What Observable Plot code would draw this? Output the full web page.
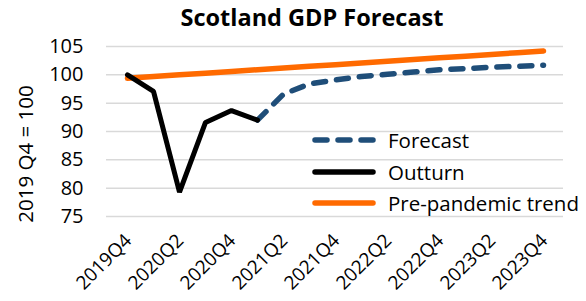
<!DOCTYPE html>
<html>
<head>
<meta charset="utf-8">
<script src="https://cdn.jsdelivr.net/npm/d3@7"></script>
<script src="https://cdn.jsdelivr.net/npm/@observablehq/plot@0.6"></script>
<style>
  html, body { margin: 0; padding: 0; background: #fff; }
  #wrap { position: relative; width: 586px; height: 301px; font-family: "Open Sans", sans-serif; }
  #title { position: absolute; left: 312px; top: 1px; transform: translateX(-50%); font-weight: bold; font-size: 23.5px; color: #000; white-space: nowrap; }
  #ylabel { position: absolute; left: 25px; top: 154px; transform: translate(-50%, -50%) rotate(-90deg); font-size: 20.5px; white-space: nowrap; color: #000; }
  #legend { position: absolute; left: 312px; top: 125px; }
  .item { position: absolute; left: 0; height: 30px; display: flex; align-items: center; white-space: nowrap; font-size: 20.5px; color: #000; }
  .item svg { margin-right: 12px; }
</style>
</head>
<body>
<div id="wrap">
  <div id="chart"></div>
  <div id="title">Scotland GDP Forecast</div>
  <div id="ylabel">2019 Q4 = 100</div>
  <div id="legend"></div>
</div>
<script>
const quarters = ["2019Q4","2020Q1","2020Q2","2020Q3","2020Q4","2021Q1","2021Q2","2021Q3","2021Q4",
  "2022Q1","2022Q2","2022Q3","2022Q4","2023Q1","2023Q2","2023Q3","2023Q4"];
const xTickLabels = ["2019Q4","2020Q2","2020Q4","2021Q2","2021Q4","2022Q2","2022Q4","2023Q2","2023Q4"];
const yTicks = [75, 80, 85, 90, 95, 100, 105];

const outturnQuarters = ["2019Q4","2020Q1","2020Q2","2020Q3","2020Q4","2021Q1"];
const outturnValues = [100.0, 97.1, 79.3, 91.6, 93.7, 92.0];

const forecastQuarters = ["2021Q1","2021Q2","2021Q3","2021Q4","2022Q1","2022Q2","2022Q3","2022Q4",
  "2023Q1","2023Q2","2023Q3","2023Q4"];
const forecastValues = [92.0, 96.6, 98.4, 99.1, 99.7, 100.1, 100.5, 100.9, 101.1, 101.35, 101.5, 101.7];

const trendValues = [99.4, 99.7, 100.0, 100.3, 100.6, 100.9, 101.2, 101.5, 101.8, 102.1, 102.4, 102.7,
  103.0, 103.3, 103.6, 103.9, 104.2];

const seriesNames = ["Forecast", "Outturn", "Pre-pandemic trend"];
const seriesColors = ["#1F4E79", "#000000", "#FF6A00"];

const outturn = outturnQuarters.map((q, i) => ({q, v: outturnValues[i]}));
const forecast = forecastQuarters.map((q, i) => ({q, v: forecastValues[i]}));
const trend = quarters.map((q, i) => ({q, v: trendValues[i]}));

const chart = Plot.plot({
  width: 586,
  height: 301,
  marginTop: 46,
  marginBottom: 85,
  marginLeft: 106,
  marginRight: 23,
  style: {fontFamily: "'Open Sans', sans-serif", fontSize: "20px", color: "#000", background: "#fff"},
  x: {type: "point", domain: quarters, padding: 0.5},
  y: {domain: [75, 105]},
  marks: [
    Plot.gridY(yTicks, {stroke: "#d9d9d9", strokeOpacity: 1, strokeWidth: 1.5}),
    Plot.axisY(yTicks, {tickSize: 0, tickPadding: 23, fontSize: 20, label: null}),
    Plot.axisX(xTickLabels, {tickSize: 0, tickRotate: -45, textAnchor: "end", tickPadding: 0, dx: 1, dy: 21, fontSize: 19, label: null}),
    Plot.line(trend, {x: "q", y: "v", stroke: seriesColors[2], strokeWidth: 5.5, strokeLinecap: "round"}),
    Plot.line(forecast, {x: "q", y: "v", stroke: seriesColors[0], strokeWidth: 5.5, strokeLinecap: "round", strokeDasharray: "12,11"}),
    Plot.line(outturn, {x: "q", y: "v", stroke: seriesColors[1], strokeWidth: 5, strokeLinejoin: "miter", strokeLinecap: "round"})
  ]
});
document.getElementById("chart").appendChild(chart);

const legend = document.getElementById("legend");
const tops = [0, 32, 63];
seriesNames.forEach((name, i) => {
  const it = document.createElement("div");
  it.className = "item";
  it.style.top = tops[i] + "px";
  const dash = i === 0 ? 'stroke-dasharray="12,11"' : '';
  it.innerHTML = `<svg width="64" height="10"><line x1="3" y1="5" x2="61" y2="5" stroke="${seriesColors[i]}" stroke-width="5.5" stroke-linecap="round" ${dash}/></svg><span>${name}</span>`;
  legend.appendChild(it);
});
</script>
</body>
</html>
